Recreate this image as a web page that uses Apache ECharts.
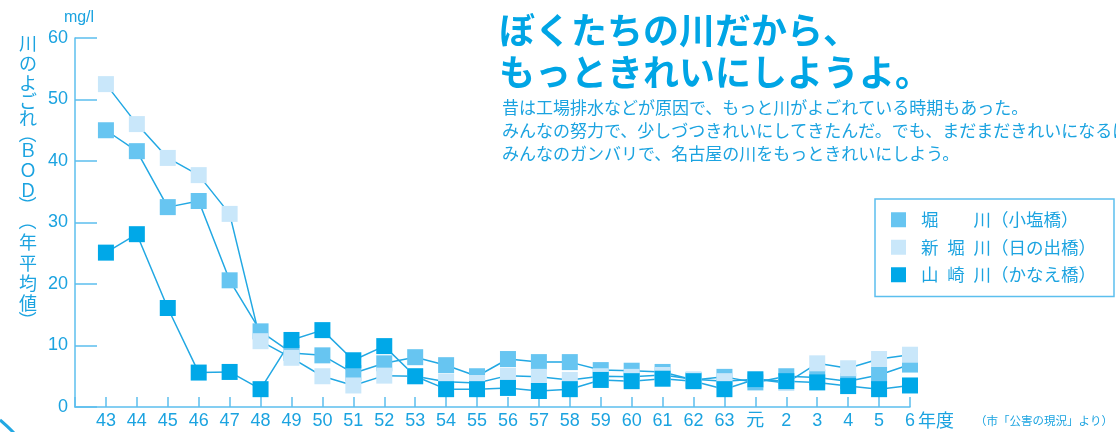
<!DOCTYPE html>
<html><head><meta charset="utf-8">
<script src="https://cdn.jsdelivr.net/npm/echarts@6/dist/echarts.min.js"></script>
<style>html,body{margin:0;padding:0;background:#fff}#c{width:1116px;height:432px}</style>
</head><body><div id="c"></div>
<script>
// ---- data ----
const categories = ['43','44','45','46','47','48','49','50','51','52','53','54','55','56','57','58','59','60','61','62','63','元','2','3','4','5','6'];
const horikawa   = [45.0,41.6,32.5,33.5,20.6,12.3,8.8,8.4,5.5,7.1,8.1,6.8,5.0,7.8,7.3,7.3,6.0,5.9,5.7,4.4,4.9,4.0,5.0,4.8,4.2,5.2,6.9];
const shinhori   = [52.5,46.0,40.5,37.7,31.4,10.7,8.0,5.0,3.5,5.1,5.0,4.1,3.9,5.1,4.9,4.4,5.0,4.9,5.2,4.5,4.2,4.5,3.9,7.1,6.3,7.8,8.5];
const yamazaki   = [25.1,28.1,16.1,5.6,5.7,2.9,10.9,12.5,7.6,9.9,5.0,2.9,2.9,3.1,2.6,2.9,4.4,4.2,4.6,4.2,2.9,4.5,4.2,4.0,3.4,2.9,3.5];
const seriesNames = ['堀\u3000\u3000川（小塩橋）','新\u2002堀\u2002川（日の出橋）','山\u2002崎\u2002川（かなえ橋）'];
const yAxisTitle = ['川','の','よ','ご','れ','（','Ｂ','Ｏ','Ｄ','）','（','年','平','均','値','）'];
const yMin = 0, yMax = 60, yStep = 10;

// ---- styling ----
const C_MED = '#67c5f1', C_LIGHT = '#c9e7fa', C_DARK = '#00a8e8';
const C_LINE = '#22a8e3', C_AXIS = '#5cbfee', C_TEXT = '#1ba3e0';
const JP = '"Noto Sans CJK JP", sans-serif';
const NUM = '"Liberation Sans", "Noto Sans CJK JP", sans-serif';

const xData = [''].concat(categories);
const pad = arr => [null].concat(arr);
const colors = [C_MED, C_LIGHT, C_DARK];
const values = [horikawa, shinhori, yamazaki];

const series = [];
values.forEach((v, i) => {
  series.push({
    name: 'line' + i, type: 'line', data: pad(v), symbol: 'none', z: 2,
    lineStyle: { color: C_LINE, width: 1.5 }, silent: true, animation: false
  });
});
values.forEach((v, i) => {
  series.push({
    name: seriesNames[i], type: 'scatter', data: pad(v), symbol: 'rect', symbolSize: 16, z: 3 + i,
    itemStyle: { color: colors[i], opacity: 1 }, animation: false
  });
});

// vertical axis title, one glyph per element (parentheses turned for vertical writing)
const yTitleY = [43, 63, 83, 101, 118, 134, 150, 170, 190, 205, 221, 242, 263, 283, 303, 320];
const yTitleEls = yAxisTitle.map((ch, i) => {
  const isParen = ch === '（' || ch === '）';
  return {
    type: 'text', x: 28, y: yTitleY[i], rotation: isParen ? -Math.PI / 2 : 0,
    style: { text: ch, fill: C_TEXT, font: '18px ' + JP, align: 'center', verticalAlign: 'middle' }
  };
});

const chart = echarts.init(document.getElementById('c'));
chart.setOption({
  backgroundColor: '#fff',
  animation: false,
  grid: { left: 75, right: 206, top: 38, bottom: 25, containLabel: false },
  xAxis: {
    type: 'category', data: xData, boundaryGap: false,
    axisLine: { lineStyle: { color: C_AXIS, width: 1.5 } },
    axisTick: { inside: true, length: 10, lineStyle: { color: C_AXIS, width: 1.5 } },
    axisLabel: { color: C_TEXT, fontSize: 18, fontFamily: NUM, margin: 5, interval: 0 },
    splitLine: { show: false }
  },
  yAxis: {
    type: 'value', min: yMin, max: yMax, interval: yStep,
    axisLine: { show: true, lineStyle: { color: C_AXIS, width: 1.5 } },
    axisTick: { show: true, inside: true, length: 22, lineStyle: { color: C_AXIS, width: 1.5 } },
    axisLabel: { color: C_TEXT, fontSize: 18, fontFamily: NUM, margin: 7 },
    splitLine: { show: false }
  },
  legend: {
    data: seriesNames, orient: 'vertical', left: 875, top: 199,
    icon: 'rect', itemWidth: 15, itemHeight: 15, itemGap: 10,
    padding: [12, 18, 13, 16],
    borderColor: C_AXIS, borderWidth: 1.5,
    textStyle: { color: C_TEXT, fontSize: 17.5, fontFamily: JP, lineHeight: 17, padding: [0, 0, 0, 10] },
    selectedMode: false
  },
  series: series,
  graphic: [
    { type: 'text', left: 499, top: 12, style: { text: 'ぼくたちの川だから、', fill: '#00a5e5', font: 'bold 36px ' + JP } },
    { type: 'text', left: 499, top: 54, style: { text: 'もっときれいにしようよ。', fill: '#00a5e5', font: 'bold 36px ' + JP } },
    { type: 'text', left: 502, top: 96, style: { text: '昔は工場排水などが原因で、もっと川がよごれている時期もあった。\nみんなの努力で、少しづつきれいにしてきたんだ。でも、まだまだきれいになるはず。\nみんなのガンバリで、名古屋の川をもっときれいにしよう。', fill: C_TEXT, font: '17px ' + JP, lineHeight: 23 } },
    { type: 'text', x: 79, y: 18, style: { text: 'mg/l', fill: C_TEXT, font: '16px ' + NUM, align: 'center', verticalAlign: 'middle' } },
    { type: 'text', x: 918, y: 420, style: { text: '年度', fill: C_TEXT, font: '18px ' + JP, align: 'left', verticalAlign: 'middle' } },
    { type: 'text', x: 1113, y: 421, style: { text: '（市「公害の現況」より）', fill: C_TEXT, font: '11.5px ' + JP, align: 'right', verticalAlign: 'middle' } },
    { type: 'bezierCurve', shape: { x1: 0, y1: 420, x2: 14, y2: 433, cpx1: 6, cpy1: 425 }, style: { stroke: C_LINE, lineWidth: 3, fill: null } }
  ].concat(yTitleEls)
});
</script></body></html>
